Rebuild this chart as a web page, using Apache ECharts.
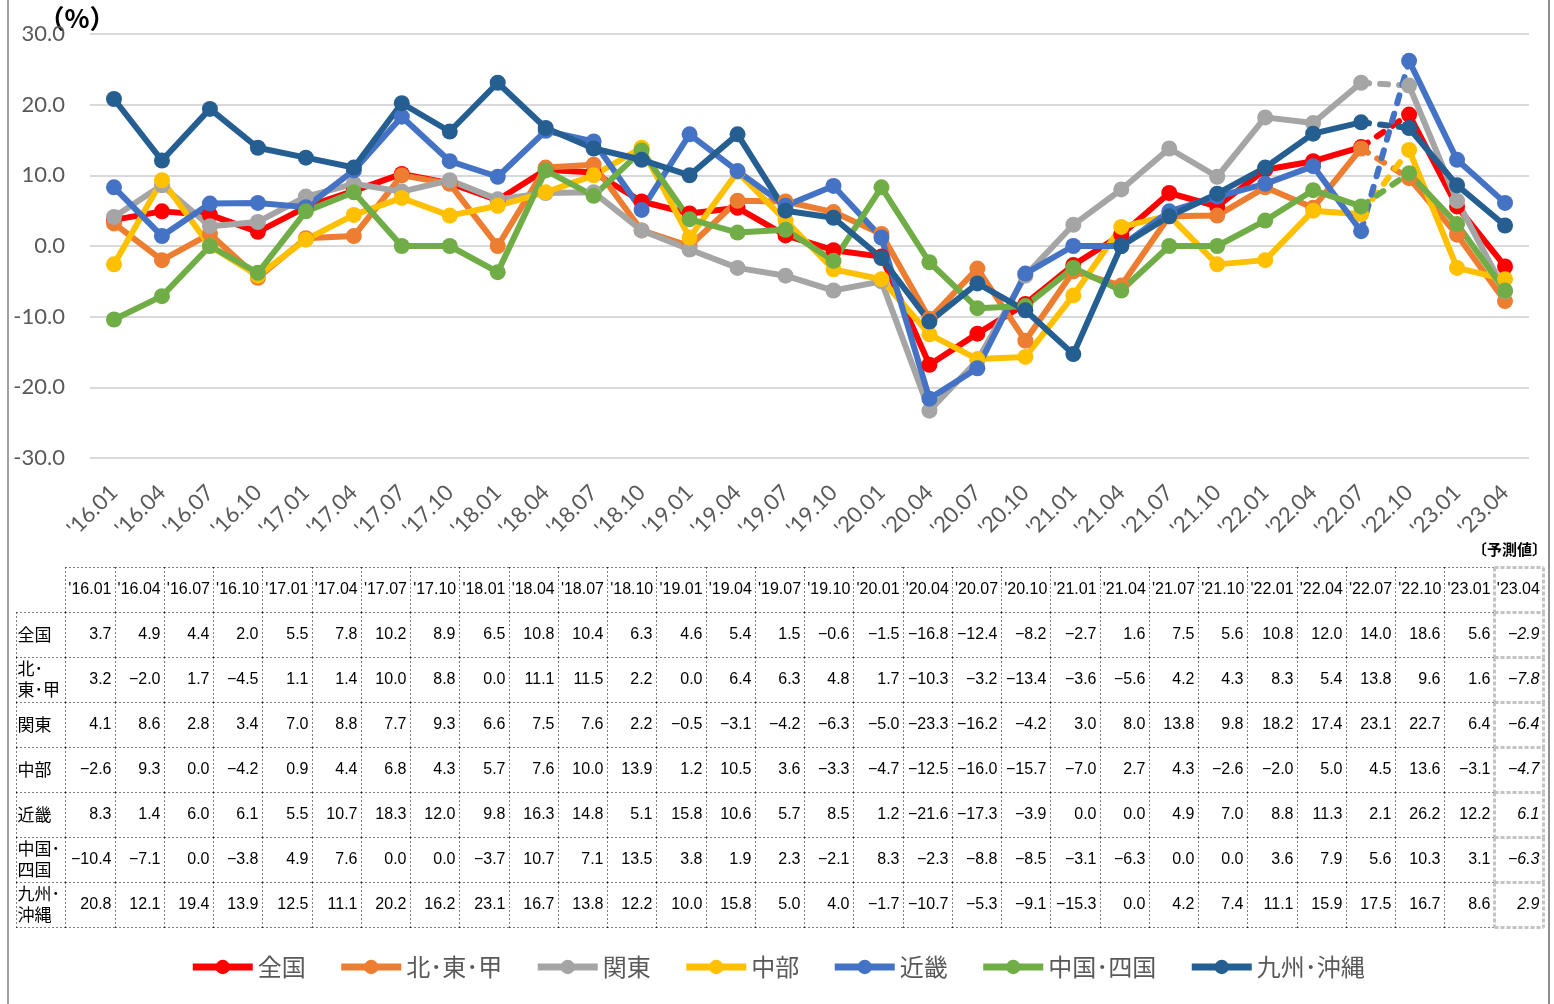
<!DOCTYPE html>
<html lang="ja">
<head>
<meta charset="utf-8">
<title>地域別 前年同期比</title>
<script src="https://cdn.jsdelivr.net/npm/echarts@6.0.0/dist/echarts.min.js"></script>
<style>
  html, body { margin: 0; padding: 0; background: #fff; }
  #chart { width: 1554px; height: 1004px; }
</style>
</head>
<body>
<div id="chart"></div>
<script>
/* ── データ ─────────────────────────────────────────── */
const periods = ["'16.01","'16.04","'16.07","'16.10","'17.01","'17.04","'17.07","'17.10","'18.01","'18.04",
  "'18.07","'18.10","'19.01","'19.04","'19.07","'19.10","'20.01","'20.04","'20.07","'20.10",
  "'21.01","'21.04","'21.07","'21.10","'22.01","'22.04","'22.07","'22.10","'23.01","'23.04"];

const regions = ['全国', '北･東･甲', '関東', '中部', '近畿', '中国･四国', '九州･沖縄'];
const rowLabels = ['全国', '北･\n東･甲', '関東', '中部', '近畿', '中国･\n四国', '九州･\n沖縄'];
const colors = ['#FF0000', '#ED7D31', '#A5A5A5', '#FFC000', '#4472C4', '#70AD47', '#255E91'];

const zenkoku  = [3.7, 4.9, 4.4, 2.0, 5.5, 7.8, 10.2, 8.9, 6.5, 10.8, 10.4, 6.3, 4.6, 5.4, 1.5, -0.6, -1.5, -16.8, -12.4, -8.2, -2.7, 1.6, 7.5, 5.6, 10.8, 12.0, 14.0, 18.6, 5.6, -2.9];
const kitaToKo = [3.2, -2.0, 1.7, -4.5, 1.1, 1.4, 10.0, 8.8, 0.0, 11.1, 11.5, 2.2, 0.0, 6.4, 6.3, 4.8, 1.7, -10.3, -3.2, -13.4, -3.6, -5.6, 4.2, 4.3, 8.3, 5.4, 13.8, 9.6, 1.6, -7.8];
const kanto    = [4.1, 8.6, 2.8, 3.4, 7.0, 8.8, 7.7, 9.3, 6.6, 7.5, 7.6, 2.2, -0.5, -3.1, -4.2, -6.3, -5.0, -23.3, -16.2, -4.2, 3.0, 8.0, 13.8, 9.8, 18.2, 17.4, 23.1, 22.7, 6.4, -6.4];
const chubu    = [-2.6, 9.3, 0.0, -4.2, 0.9, 4.4, 6.8, 4.3, 5.7, 7.6, 10.0, 13.9, 1.2, 10.5, 3.6, -3.3, -4.7, -12.5, -16.0, -15.7, -7.0, 2.7, 4.3, -2.6, -2.0, 5.0, 4.5, 13.6, -3.1, -4.7];
const kinki    = [8.3, 1.4, 6.0, 6.1, 5.5, 10.7, 18.3, 12.0, 9.8, 16.3, 14.8, 5.1, 15.8, 10.6, 5.7, 8.5, 1.2, -21.6, -17.3, -3.9, 0.0, 0.0, 4.9, 7.0, 8.8, 11.3, 2.1, 26.2, 12.2, 6.1];
const chugoku  = [-10.4, -7.1, 0.0, -3.8, 4.9, 7.6, 0.0, 0.0, -3.7, 10.7, 7.1, 13.5, 3.8, 1.9, 2.3, -2.1, 8.3, -2.3, -8.8, -8.5, -3.1, -6.3, 0.0, 0.0, 3.6, 7.9, 5.6, 10.3, 3.1, -6.3];
const kyushu   = [20.8, 12.1, 19.4, 13.9, 12.5, 11.1, 20.2, 16.2, 23.1, 16.7, 13.8, 12.2, 10.0, 15.8, 5.0, 4.0, -1.7, -10.7, -5.3, -9.1, -15.3, 0.0, 4.2, 7.4, 11.1, 15.9, 17.5, 16.7, 8.6, 2.9];

const values = [zenkoku, kitaToKo, kanto, chubu, kinki, chugoku, kyushu];
const yTicks = [-30, -20, -10, 0, 10, 20, 30];
const dashFrom = 26;   // '22.07 → '22.10 は破線
const forecastIdx = 29; // '23.04 は予測値

/* ── 折れ線 ─────────────────────────────────────────── */
const FONT = "Lato, 'Noto Sans CJK JP', sans-serif";
const TFONT = "'Liberation Sans', 'Noto Sans CJK JP', sans-serif";
const JFONT = "'Noto Sans CJK JP', sans-serif";

const lineSeries = [];
regions.forEach((name, k) => {
  const v = values[k];
  const part = (a, b) => v.map((x, i) => (i >= a && i <= b ? x : null));
  const base = {
    type: 'line', name, xAxisIndex: 0, yAxisIndex: 0,
    symbol: 'circle', symbolSize: 16, showAllSymbol: true,
    itemStyle: { color: colors[k] },
    lineStyle: { width: 6, color: colors[k] },
    emphasis: { disabled: true }
  };
  lineSeries.push({ ...base, data: part(0, dashFrom) });
  lineSeries.push({
    ...base, data: part(dashFrom, dashFrom + 1), showSymbol: false,
    lineStyle: { width: 6, color: colors[k], type: [8, 11], cap: 'round' }
  });
  lineSeries.push({ ...base, data: part(dashFrom + 1, v.length - 1) });
});

/* ── 表 ─────────────────────────────────────────────── */
const fmt = (x) => (x < 0 ? '\u2212' + (-x).toFixed(1) : x.toFixed(1));
const cells = [];
periods.forEach((p, i) => cells.push({ value: [i + 1, 0], text: p, kind: 'head' }));
rowLabels.forEach((lab, r) => {
  cells.push({ value: [0, r + 1], text: lab, kind: 'label' });
  values[r].forEach((x, i) => cells.push({ value: [i + 1, r + 1], text: fmt(x), kind: 'num' }));
});
const nRows = regions.length + 1;

function renderCell(params, api) {
  const cell = cells[params.dataIndex];
  const [c, r] = cell.value;
  const p = api.coord([c, r]);
  const sz = api.size([1, 1]);
  const x0 = Math.round(p[0] - sz[0] / 2) + 0.5, x1 = Math.round(p[0] + sz[0] / 2) + 0.5;
  const y0 = Math.round(p[1] - sz[1] / 2) + 0.5, y1 = Math.round(p[1] + sz[1] / 2) + 0.5;
  const fc = c === forecastIdx + 1;
  const dot = { stroke: '#000', lineWidth: 1, lineDash: [1, 3] };
  const gray = { stroke: '#C3C3C3', lineWidth: 3, lineDash: [4, 2] };
  const ln = (a, b, cc, d, st) => ({ type: 'line', shape: { x1: a, y1: b, x2: cc, y2: d }, style: st });
  const kids = [];
  const st = fc ? gray : dot;
  kids.push(ln(x0, y0, x1, y0, st));
  kids.push(ln(x0, y0, x0, y1, st));
  if (fc) kids.push(ln(x1, y0, x1, y1, gray));
  if (r === nRows - 1) kids.push(ln(x0, y1, x1, y1, st));

  let tx = p[0], align = 'center', size = 16, fam = TFONT;
  if (cell.kind === 'num') { tx = x1 - 4; align = 'right'; }
  if (cell.kind === 'label') { tx = x0 + 1; align = 'left'; size = 17; fam = JFONT; }
  kids.push({
    type: 'text', z2: 10,
    style: {
      text: cell.text, x: tx, y: p[1], align, verticalAlign: 'middle',
      fill: '#000', fontSize: size, fontFamily: fam, lineHeight: 21,
      fontStyle: fc && cell.kind === 'num' ? 'italic' : 'normal'
    }
  });
  return { type: 'group', children: kids };
}

/* ── チャート ───────────────────────────────────────── */
const chart = echarts.init(document.getElementById('chart'), null, { renderer: 'canvas' });

chart.setOption({
  animation: false,
  backgroundColor: '#fff',
  grid: [
    { left: 90, right: 25, top: 34, height: 424 },
    { left: 16, right: 11, top: 567, height: 360 }
  ],
  xAxis: [
    {
      type: 'category', gridIndex: 0, data: periods, boundaryGap: true,
      axisLine: { show: false }, axisTick: { show: false },
      axisLabel: { interval: 0, rotate: 45, margin: 31, fontSize: 22, color: '#595959', fontFamily: FONT }
    },
    {
      type: 'category', gridIndex: 1, data: [''].concat(periods), show: false
    }
  ],
  yAxis: [
    {
      type: 'value', gridIndex: 0, min: yTicks[0], max: yTicks[yTicks.length - 1], interval: 10,
      axisLine: { show: false }, axisTick: { show: false },
      axisLabel: { margin: 25, fontSize: 22, color: '#595959', fontFamily: FONT, formatter: (v) => v.toFixed(1) },
      splitLine: { lineStyle: { color: '#D9D9D9', width: 2 } }
    },
    {
      type: 'category', gridIndex: 1, inverse: true, show: false,
      data: [''].concat(regions)
    }
  ],
  legend: {
    data: regions, left: 'center', top: 955, padding: 0,
    itemWidth: 60, itemHeight: 18, itemGap: 32,
    lineStyle: { width: 7 },
    textStyle: { fontSize: 24, color: '#595959', fontFamily: JFONT }
  },
  graphic: [
    { type: 'line', shape: { x1: 8, y1: 0, x2: 8, y2: 1004 }, style: { stroke: '#A0A0A0', lineWidth: 2 } },
    { type: 'line', shape: { x1: 1549, y1: 0, x2: 1549, y2: 1004 }, style: { stroke: '#8C8C8C', lineWidth: 2 } },
    { type: 'text', x: 77, y: 18, style: { text: '（%）', align: 'center', verticalAlign: 'middle', fontSize: 26, fontWeight: 'bold', fill: '#000', fontFamily: JFONT } },
    { type: 'text', x: 1547, y: 549, style: { text: '〔予測値〕', align: 'right', verticalAlign: 'middle', fontSize: 15, fontWeight: 'bold', fill: '#000', fontFamily: JFONT } }
  ],
  series: lineSeries.concat([{
    type: 'custom', name: 'table', xAxisIndex: 1, yAxisIndex: 1,
    data: cells.map((c) => c.value), renderItem: renderCell, silent: true
  }])
});
</script>
</body>
</html>
